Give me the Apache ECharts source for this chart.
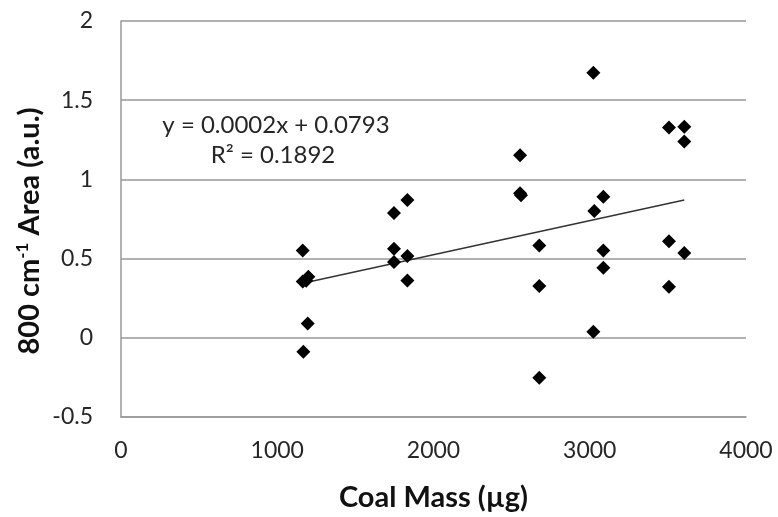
<!DOCTYPE html>
<html>
<head>
<meta charset="utf-8">
<script src="https://cdn.jsdelivr.net/npm/echarts@6/dist/echarts.min.js"></script>
<style>
  html, body { margin: 0; padding: 0; background: #fff; }
  #main { width: 778px; height: 517px; }
</style>
</head>
<body>
<div id="main"></div>
<script>
// coal mass (µg) and 800 cm-1 band area
var massX = [1163, 1199, 1185, 1163, 1195, 1167,
  1747, 1747, 1747, 1833, 1833, 1833,
  2554, 2554, 2560, 2677, 2677, 2677,
  3023, 3029, 3023, 3087, 3087, 3087,
  3507, 3507, 3507, 3605, 3605, 3605];
var areaY = [0.551, 0.385, 0.36, 0.355, 0.09, -0.088,
  0.788, 0.562, 0.478, 0.870, 0.516, 0.362,
  1.153, 0.912, 0.90, 0.582, 0.327, -0.252,
  1.673, 0.801, 0.038, 0.891, 0.551, 0.442,
  1.327, 0.610, 0.323, 1.333, 1.239, 0.536];

// linear trendline end points
var trendX = [1163, 3605];
var trendY = [0.345, 0.87];

var xTicks = [0, 4000, 1000];   // min, max, step
var yTicks = [-0.5, 2, 0.5];

var eqText = 'y = 0.0002x + 0.0793';
var r2Text = 'R\u00b2 = 0.1892';

var chart = echarts.init(document.getElementById('main'));

var pts = [];
for (var i = 0; i < massX.length; i++) {
  pts.push([massX[i], areaY[i]]);
}
var line = [];
for (var j = 0; j < trendX.length; j++) {
  line.push([trendX[j], trendY[j]]);
}

var font = 'Lato';

var option = {
  animation: false,
  backgroundColor: '#fff',
  grid: {
    left: 121,
    right: 32,
    top: 21,
    bottom: 99
  },
  xAxis: {
    type: 'value',
    min: xTicks[0],
    max: xTicks[1],
    interval: xTicks[2],
    name: 'Coal Mass (\u00b5g)',
    nameLocation: 'middle',
    nameGap: 66,
    nameTextStyle: { fontFamily: font, fontSize: 29, fontWeight: 'bold', color: '#111' },
    axisLine: { onZero: false, lineStyle: { color: '#999', width: 1.5 } },
    axisTick: { show: false },
    splitLine: { show: false },
    axisLabel: {
      fontFamily: font, fontSize: 23, color: '#262626', margin: 22,
      formatter: function (v) { return String(v); }
    }
  },
  yAxis: {
    type: 'value',
    min: yTicks[0],
    max: yTicks[1],
    interval: yTicks[2],
    axisLine: { show: true, lineStyle: { color: '#999', width: 1.5 } },
    axisTick: { show: false },
    splitLine: { lineStyle: { color: '#999', width: 1.5 } },
    axisLabel: {
      fontFamily: font, fontSize: 23, color: '#262626', margin: 28,
      formatter: function (v) { return String(v); }
    }
  },
  graphic: [
    {
      type: 'text',
      x: 30,
      y: 231,
      rotation: Math.PI / 2,
      style: {
        text: '800 cm{sup|-1} Area (a.u.)',
        fontFamily: font,
        fontSize: 29,
        fontWeight: 'bold',
        fill: '#111',
        align: 'center',
        verticalAlign: 'middle',
        rich: {
          sup: { fontFamily: font, fontSize: 17, fontWeight: 'bold', fill: '#111', padding: [0, 0, 14, 0] }
        }
      }
    },
    {
      type: 'text',
      x: 276,
      y: 125,
      style: {
        text: eqText,
        fontFamily: font,
        fontSize: 24,
        fill: '#262626',
        align: 'center',
        verticalAlign: 'middle'
      }
    },
    {
      type: 'text',
      x: 273,
      y: 155,
      style: {
        text: r2Text,
        fontFamily: font,
        fontSize: 24,
        fill: '#262626',
        align: 'center',
        verticalAlign: 'middle'
      }
    }
  ],
  series: [
    {
      type: 'line',
      data: line,
      symbol: 'none',
      lineStyle: { color: '#333', width: 1.5 },
      z: 1
    },
    {
      type: 'scatter',
      data: pts,
      symbol: 'diamond',
      symbolSize: 14,
      itemStyle: { color: '#000', opacity: 1 },
      z: 2
    }
  ]
};

chart.setOption(option);
</script>
</body>
</html>
